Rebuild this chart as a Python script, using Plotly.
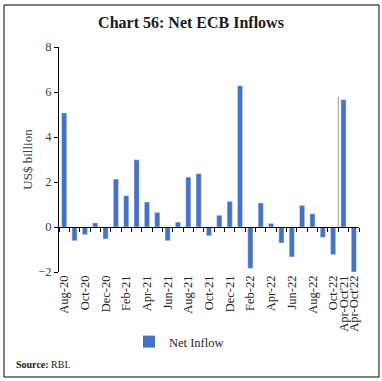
import plotly.graph_objects as go

categories = ["Aug-20", "Sep-20", "Oct-20", "Nov-20", "Dec-20", "Jan-21", "Feb-21", "Mar-21",
              "Apr-21", "May-21", "Jun-21", "Jul-21", "Aug-21", "Sep-21", "Oct-21", "Nov-21",
              "Dec-21", "Jan-22", "Feb-22", "Mar-22", "Apr-22", "May-22", "Jun-22", "Jul-22",
              "Aug-22", "Sep-22", "Oct-22", "Apr-Oct'21", "Apr-Oct'22"]
net_inflow = [5.07, -0.61, -0.34, 0.18, -0.53, 2.13, 1.39, 2.99,
              1.11, 0.65, -0.61, 0.22, 2.22, 2.37, -0.39, 0.52,
              1.14, 6.28, -1.84, 1.07, 0.16, -0.71, -1.33, 0.96,
              0.59, -0.46, -1.23, 5.66, -2.00]
tick_labels = [c if (i % 2 == 0 or i >= 27) else "" for i, c in enumerate(categories)]

SERIF = "Liberation Serif"
BLUE = "#4472C4"

fig = go.Figure()
fig.add_trace(go.Bar(x=categories, y=net_inflow, name="Net Inflow",
                     marker=dict(color=BLUE, line=dict(width=0)), xaxis="x", yaxis="y"))
# invisible copy driving the zero-line axis (ticks at y=0)
fig.add_trace(go.Bar(x=categories, y=net_inflow, marker=dict(color="rgba(0,0,0,0)"),
                     showlegend=False, hoverinfo="skip", xaxis="x2", yaxis="y"))

fig.update_layout(
    width=382, height=381,
    margin=dict(l=59, r=23, t=47, b=109, autoexpand=False),
    paper_bgcolor="white", plot_bgcolor="white",
    bargap=0.5,
    title=dict(text="<b>Chart 56: Net ECB Inflows</b>", x=0.5, xanchor="center",
               y=1 - 22 / 381, yanchor="middle",
               font=dict(family=SERIF, size=16, color="#1a1a1a")),
    font=dict(family=SERIF, size=12, color="#404040"),
    xaxis=dict(type="category", categoryorder="array", categoryarray=categories,
               range=[-0.5, 28.5], tickmode="array", tickvals=categories, ticktext=tick_labels,
               tickangle=-90, showline=False, ticks="", showgrid=False, zeroline=False,
               automargin=False,
               tickfont=dict(family=SERIF, size=12.5, color="#262626")),
    xaxis2=dict(type="category", categoryorder="array", categoryarray=categories,
                overlaying="x", anchor="free", position=0.2, range=[-0.5, 28.5],
                showticklabels=False, showline=True, linecolor="black", linewidth=1,
                ticks="outside", ticklen=4, tickcolor="black", tickson="boundaries",
                automargin=False,
                tickmode="array", tickvals=categories, showgrid=False, zeroline=False),
    yaxis=dict(range=[-2, 8], tickvals=[-2, 0, 2, 4, 6, 8], showline=True, linecolor="black",
               linewidth=1, ticks="outside", ticklen=4, tickcolor="black", showgrid=False,
               zeroline=False, automargin=False,
               tickfont=dict(family=SERIF, size=12.5, color="#404040"),
               title=dict(text="US$ billion", standoff=2,
                          font=dict(family=SERIF, size=13, color="#404040"))),
    legend=dict(orientation="h", x=(129 - 59) / 300, xanchor="left",
                y=(272 - 342) / 225, yanchor="middle",
                font=dict(family=SERIF, size=12.5, color="#262626"),
                itemwidth=30, bgcolor="rgba(0,0,0,0)"),
    shapes=[
        dict(type="line", xref="x", yref="y", x0=26.5, x1=26.5, y0=0, y1=5.8,
             line=dict(color="#9a9a9a", width=1)),
        dict(type="rect", xref="paper", yref="paper",
             x0=(4 - 59) / 300, x1=(379 - 59) / 300,
             y0=(272 - 377) / 225, y1=(272 - 5) / 225,
             line=dict(color="black", width=1)),
    ],
    annotations=[
        dict(text="<b>Source:</b> RBI.", xref="paper", yref="paper",
             x=(14 - 59) / 300, y=(272 - 364) / 225, xanchor="left", yanchor="middle",
             showarrow=False, font=dict(family=SERIF, size=10, color="#1a1a1a")),
    ],
)

fig.write_html("out.html", config={"displayModeBar": False},
               post_script="document.body.style.margin='0';")
